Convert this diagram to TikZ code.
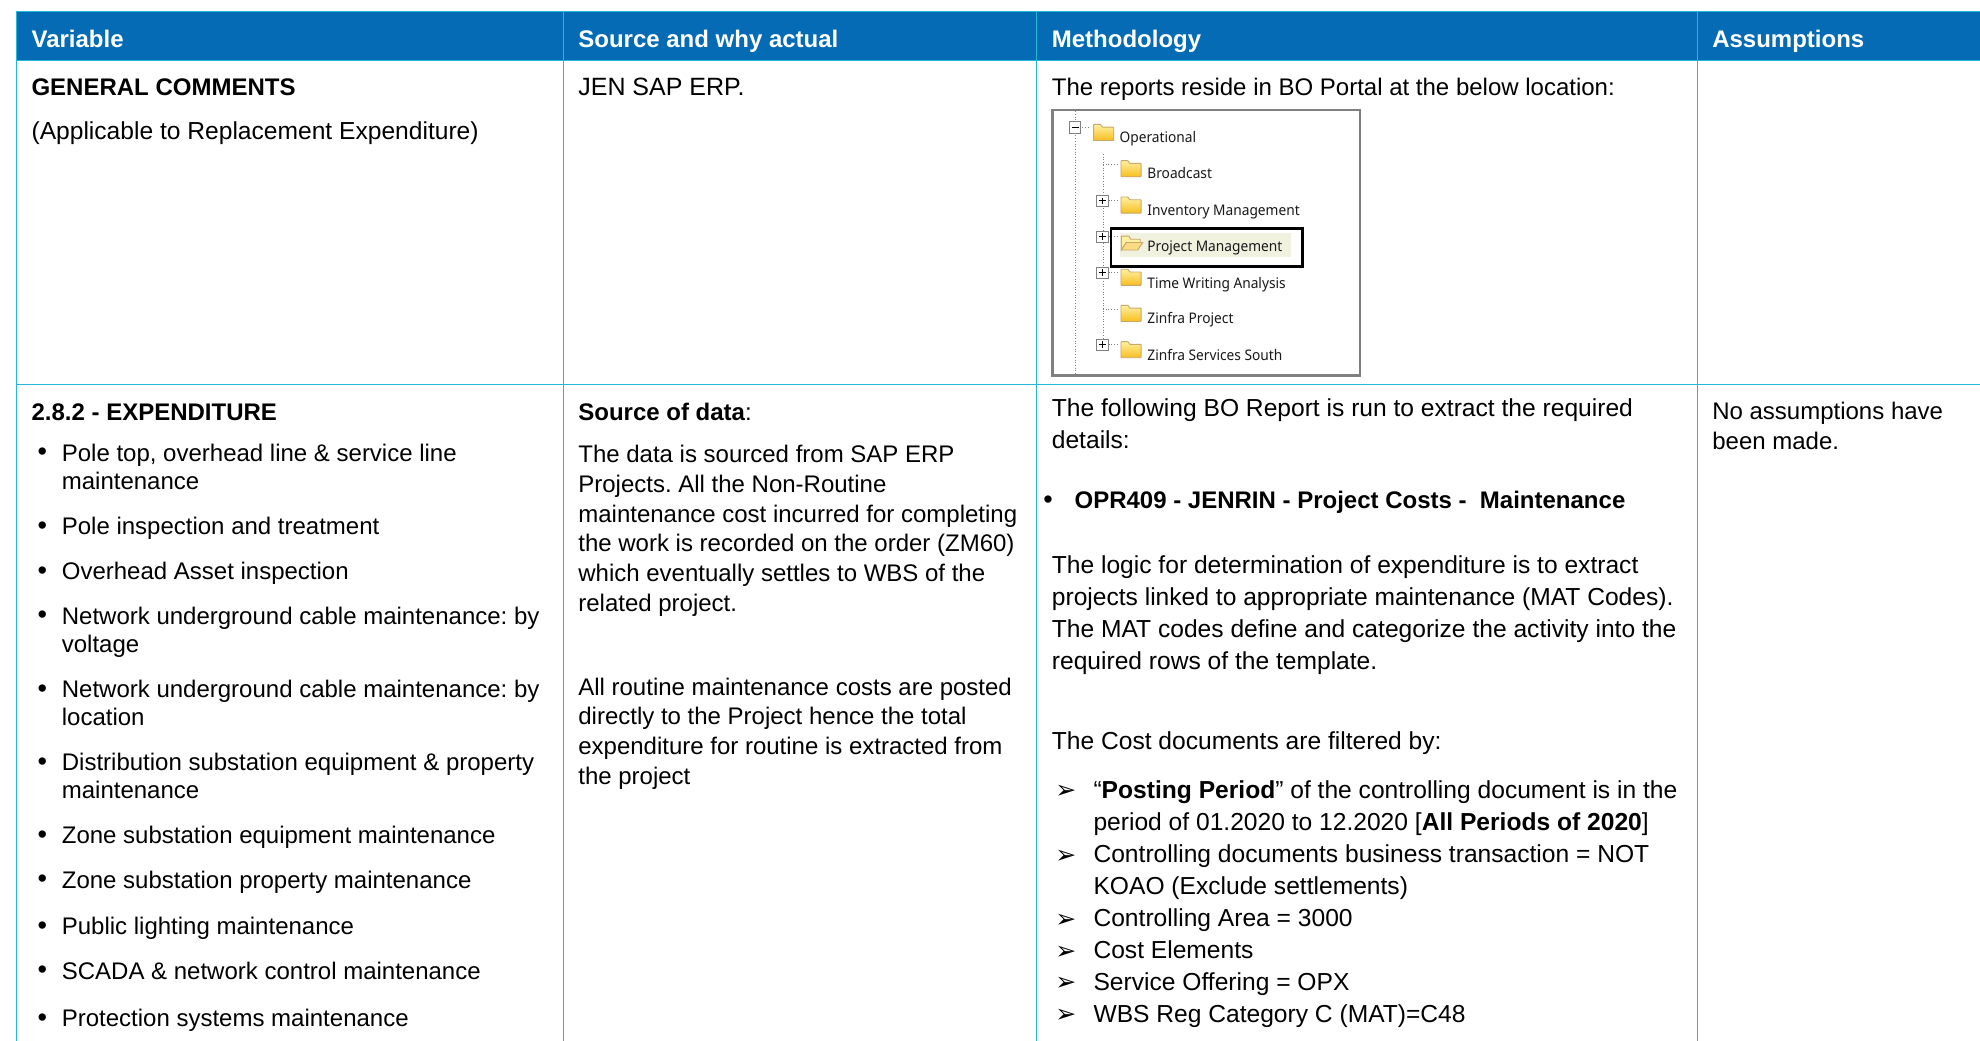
\documentclass[tikz,border=0pt]{standalone}
\usepackage{fontspec}
\setmainfont{Liberation Sans}
\frenchspacing
\newfontfamily\dejavu{DejaVu Sans}
\newfontfamily\uifont[FakeStretch=0.94]{Noto Sans}
\definecolor{hdrblue}{HTML}{046BB4}
\definecolor{gridcyan}{HTML}{22B8D6}
\definecolor{insetgray}{HTML}{808080}
\definecolor{foldtop}{HTML}{FFF0A0}
\definecolor{foldbot}{HTML}{F7BE1E}
\definecolor{foldedge}{HTML}{C9A66B}
\definecolor{hilite}{HTML}{F1F1DF}
\newcommand{\foldericon}[2]{%
  \shade[top color=foldtop,bottom color=foldbot,draw=foldedge,line width=.9pt,rounded corners=.6pt] (#1-8,#2-6.5) -- (#1-2.5,#2-6.5) -- (#1-1,#2-4.3) -- (#1+8,#2-4.3) -- (#1+8,#2+6.3) -- (#1-8,#2+6.3) -- cycle;}
\newcommand{\treebox}[3]{%
  \draw[gray,fill=white,line width=.9pt] (#1-4.5,#2-4.5) rectangle (#1+4.5,#2+4.5);
  \draw[black,line width=.9pt] (#1-2.6,#2) -- (#1+2.6,#2);
  \ifnum#3=1 \draw[black,line width=.9pt] (#1,#2-2.6) -- (#1,#2+2.6);\fi}
\tikzset{
  x=1.2628pt,y=-1.2628pt,
  body/.style={anchor=base west,inner sep=0pt,outer sep=0pt,yshift=-.8pt,font=\fontsize{24}{28}\selectfont,text=black},
  methbody/.style={body,font=\fontsize{24.6}{28}\selectfont},
  boldbody/.style={body,font=\fontsize{24}{28}\selectfont\bfseries},
  head/.style={body,font=\fontsize{24}{28}\selectfont\bfseries,text=white},
  dotitem/.style={anchor=base,inner sep=0pt,font=\fontsize{27}{30}\selectfont},
  arrowitem/.style={anchor=base,inner sep=0pt,font=\dejavu\fontsize{25}{26}\selectfont},
  ui/.style={anchor=base west,inner sep=0pt,yshift=-.5pt,font=\uifont\fontsize{14.6}{16}\selectfont,text=black!90},
  grid/.style={draw=gridcyan,line width=1.2pt},
  treedot/.style={draw=gray,line width=.7pt,dotted}
}
\begin{document}
\begin{tikzpicture}
\useasboundingbox (0,0) rectangle (1568,824.37);
\fill[white] (0,0) rectangle (1568,824.37);
% header band
\fill[hdrblue] (13,9) rectangle (1568,48);
% grid
\draw[grid] (13,824.37) -- (13,9) -- (1568,9);
\draw[grid] (13,48) -- (1568,48);
\draw[grid] (13,304.5) -- (1568,304.5);
\draw[grid] (446.5,9) -- (446.5,824.37);
\draw[grid] (820.5,9) -- (820.5,824.37);
\draw[grid] (1344.5,9) -- (1344.5,824.37);
% headers
\node[head] (h1) at (25,37) {Variable};
\node[head] (h2) at (458,37) {Source and why actual};
\node[head] (h3) at (833,37) {Methodology};
\node[head] (h4) at (1356,37) {Assumptions};
% row 1
\node[boldbody] (a1) at (25,75) {GENERAL COMMENTS};
\node[methbody] (a2) at (25,109.5) {(Applicable to Replacement Expenditure)};
\node[body,font=\fontsize{25}{28}\selectfont] (b1) at (458,75) {JEN SAP ERP.};
\node[body] (c1) at (833,75) {The reports reside in BO Portal at the below location:};
% inset
\draw[insetgray,fill=white,line width=2.4pt] (833.5,87) rectangle (1077,297.5);
\draw[treedot] (851.5,88) -- (851.5,296);
\draw[treedot] (873.5,122) -- (873.5,273);
\draw[treedot] (857,101) -- (863,101);
\draw[treedot] (873.5,130) -- (885,130);
\draw[treedot] (873.5,245) -- (885,245);
\foreach \yy in {159,187.5,216,273} \draw[treedot] (878,\yy) -- (885,\yy);
\treebox{851.5}{101}{0}
\treebox{873}{159}{1}
\treebox{873}{187.5}{1}
\treebox{873}{216}{1}
\treebox{873}{273}{1}
\foldericon{874}{105}
\foldericon{895.7}{133.7}
\foldericon{895.7}{162.5}
\foldericon{895.7}{219.7}
\foldericon{895.7}{248.3}
\foldericon{895.7}{277}
\fill[hilite] (887,184.5) rectangle (1022,203.5);
\fill[foldtop,draw=foldedge,line width=.9pt] (888,198) -- (888,187) -- (894,187) -- (895.5,189.5) -- (903,189.5) -- (903,192) -- (892,192) -- cycle;
\fill[foldbot!55!white,draw=foldedge,line width=.9pt] (888,198) -- (892,192) -- (905,192) -- (901,198) -- cycle;
\node[ui] (u1) at (886.5,112.3) {Operational};
\node[ui] (u2) at (908.5,140.8) {Broadcast};
\node[ui] (u3) at (908.5,170.5) {Inventory Management};
\node[ui] (u4) at (908.5,199) {Project Management};
\node[ui] (u5) at (908.5,228) {Time Writing Analysis};
\node[ui] (u6) at (908.5,255.8) {Zinfra Project};
\node[ui] (u7) at (908.5,285) {Zinfra Services South};
\draw[black,line width=2.4pt] (880,181) rectangle (1031.5,211);
% row 2, variable
\node[boldbody] (a3) at (25,332) {2.8.2 - EXPENDITURE};
\foreach \yy in {365,423,459,494,552,610,668,703,740,775,813} \node[dotitem] at (33.5,\yy) {•};
\node[body] (v1) at (49,364.5) {Pole top, overhead line \& service line};
\node[body] (v2) at (49,387) {maintenance};
\node[body] (v3) at (49,422.5) {Pole inspection and treatment};
\node[body] (v4) at (49,458.5) {Overhead Asset inspection};
\node[body] (v5) at (49,494) {Network underground cable maintenance: by};
\node[body] (v6) at (49,516) {voltage};
\node[body] (v7) at (49,552) {Network underground cable maintenance: by};
\node[body] (v8) at (49,574) {location};
\node[body] (v9) at (49,609.5) {Distribution substation equipment \& property};
\node[body] (v10) at (49,632) {maintenance};
\node[body] (v11) at (49,667.5) {Zone substation equipment maintenance};
\node[body] (v12) at (49,703) {Zone substation property maintenance};
\node[body] (v13) at (49,739.5) {Public lighting maintenance};
\node[body] (v14) at (49,775) {SCADA \& network control maintenance};
\node[body] (v15) at (49,812.5) {Protection systems maintenance};
% row 2, source
\node[body] (s1) at (458,332) {\textbf{Source of data}:};
\node[body] (s2) at (458,365.5) {The data is sourced from SAP ERP};
\node[body] (s3) at (458,389.5) {Projects. All the Non-Routine};
\node[body] (s4) at (458,413) {maintenance cost incurred for completing};
\node[body] (s5) at (458,436.2) {the work is recorded on the order (ZM60)};
\node[body] (s6) at (458,460) {which eventually settles to WBS of the};
\node[body] (s7) at (458,483.5) {related project.};
\node[body] (s8) at (458,550) {All routine maintenance costs are posted};
\node[body] (s9) at (458,573) {directly to the Project hence the total};
\node[body] (s10) at (458,597) {expenditure for routine is extracted from};
\node[body] (s11) at (458,620.5) {the project};
% row 2, methodology
\node[methbody] (m1) at (833,329) {The following BO Report is run to extract the required};
\node[methbody] (m2) at (833,354.6) {details:};
\node[dotitem] at (830,403) {•};
\node[boldbody] (m3) at (851,402) {OPR409 - JENRIN - Project Costs -\ \ Maintenance};
\node[methbody] (m4) at (833,453.6) {The logic for determination of expenditure is to extract};
\node[methbody] (m5) at (833,479) {projects linked to appropriate maintenance (MAT Codes).};
\node[methbody] (m6) at (833,504) {The MAT codes define and categorize the activity into the};
\node[methbody] (m7) at (833,529.5) {required rows of the template.};
\node[methbody] (m8) at (833,593) {The Cost documents are filtered by:};
\foreach \yy in {632.5,683.5,734.5,759.5,784.5,810} \node[arrowitem] at (844,\yy) {➢};
\node[methbody] (m9) at (866,631.5) {“\textbf{Posting Period}” of the controlling document is in the};
\node[methbody] (m10) at (866,657) {period of 01.2020 to 12.2020 [\textbf{All Periods of 2020}]};
\node[methbody] (m11) at (866,682) {Controlling documents business transaction = NOT};
\node[methbody] (m12) at (866,707.5) {KOAO (Exclude settlements)};
\node[methbody] (m13) at (866,733) {Controlling Area = 3000};
\node[methbody] (m14) at (866,758.5) {Cost Elements};
\node[methbody] (m15) at (866,783.5) {Service Offering = OPX};
\node[methbody] (m16) at (866,809) {WBS Reg Category C (MAT)=C48};
% assumptions
\node[body] (x1) at (1356,331.5) {No assumptions have};
\node[body] (x2) at (1356,355.5) {been made.};
\end{tikzpicture}
\end{document}
